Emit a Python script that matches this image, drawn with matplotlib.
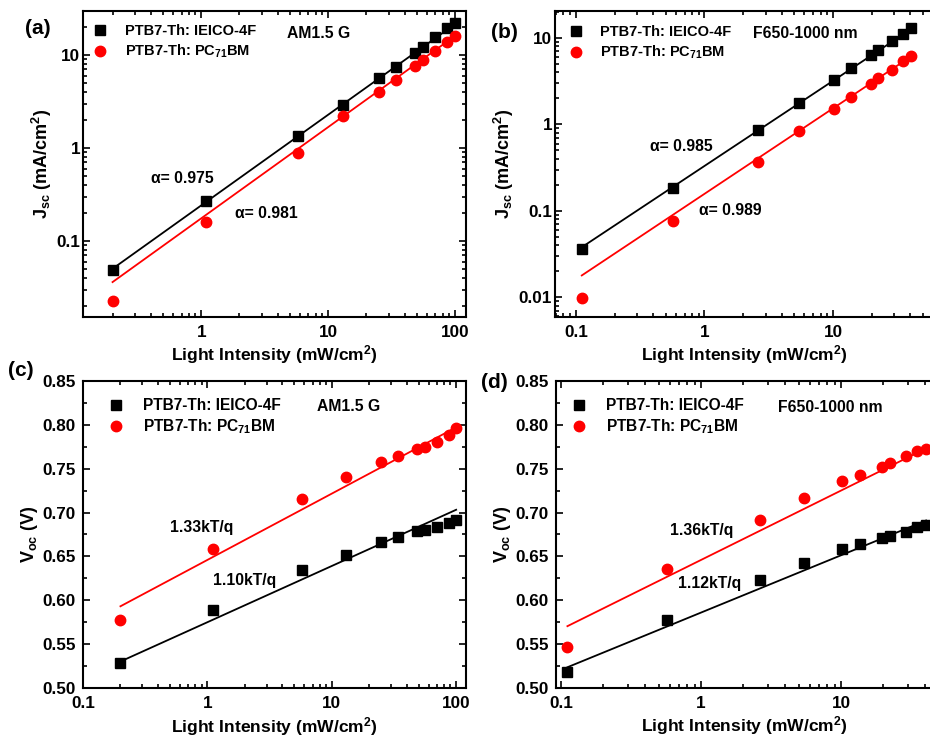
import numpy as np
import matplotlib
matplotlib.use("Agg")
import matplotlib.pyplot as plt
from matplotlib.ticker import MultipleLocator, FixedLocator, FixedFormatter

plt.rcParams["font.family"] = ["Liberation Sans", "DejaVu Sans"]
plt.rcParams["font.weight"] = "bold"
plt.rcParams["axes.labelweight"] = "bold"
plt.rcParams["mathtext.fontset"] = "custom"
plt.rcParams["mathtext.rm"] = "Liberation Sans:bold"
plt.rcParams["mathtext.it"] = "Liberation Sans:bold"
plt.rcParams["mathtext.bf"] = "Liberation Sans:bold"
plt.rcParams["mathtext.default"] = "rm"

# light intensities (mW/cm2)
int_am15 = [0.2, 1.1, 5.8, 13, 25, 34, 48, 56, 70, 87, 100]
int_nir = [0.111, 0.57, 2.63, 5.4, 10.2, 13.7, 19.6, 22.3, 29, 35, 40.5]

# Jsc (mA/cm2)
jsc_am15_ieico = [0.049, 0.27, 1.35, 2.9, 5.7, 7.5, 10.5, 12.3, 15.6, 19.6, 22]
jsc_am15_pcbm = [0.0225, 0.16, 0.89, 2.2, 4.0, 5.4, 7.6, 8.9, 11, 13.8, 16]
jsc_nir_ieico = [0.036, 0.185, 0.85, 1.75, 3.3, 4.45, 6.3, 7.2, 9.3, 11.2, 12.9]
jsc_nir_pcbm = [0.0098, 0.077, 0.37, 0.83, 1.52, 2.05, 2.9, 3.4, 4.2, 5.4, 6.1]

# Voc (V)
voc_am15_ieico = [0.529, 0.589, 0.634, 0.652, 0.667, 0.672, 0.679, 0.680, 0.684, 0.688, 0.691]
voc_am15_pcbm = [0.578, 0.658, 0.715, 0.741, 0.758, 0.764, 0.773, 0.775, 0.781, 0.788, 0.796]
voc_nir_ieico = [0.518, 0.577, 0.623, 0.642, 0.658, 0.664, 0.671, 0.673, 0.678, 0.683, 0.686]
voc_nir_pcbm = [0.547, 0.636, 0.691, 0.717, 0.736, 0.743, 0.752, 0.757, 0.764, 0.770, 0.772]

# power-law fits Jsc = A * I^alpha
fit_jsc = {
    "a": [(0.241, 0.975), (0.175, 0.981)],
    "b": [(0.33, 0.985), (0.157, 0.989)],
}
# linear-in-log fits Voc = V1 + s * log10(I)
fit_voc = {
    "c": [(0.575, 0.0641), (0.646, 0.0756)],
    "d": [(0.586, 0.0653), (0.646, 0.0791)],
}

lab_ieico = "PTB7-Th: IEICO-4F"
lab_pcbm = "PTB7-Th: PC$_{71}$BM"
xlabel = "Light Intensity (mW/cm$^{2}$)"

W, H = 930, 737
fig = plt.figure(figsize=(W / 100, H / 100), dpi=100)


def px_axes(x0, y0, x1, y1):
    return fig.add_axes([x0 / W, 1 - y1 / H, (x1 - x0) / W, (y1 - y0) / H])


def style(ax, right=True, ypad=3, xlabelpad=2):
    ax.tick_params(which="both", direction="in", top=True, right=right, labelsize=12.3, width=1.2)
    ax.tick_params(which="major", length=5)
    ax.tick_params(which="minor", length=3)
    ax.tick_params(axis="x", which="major", pad=6)
    ax.tick_params(axis="y", which="major", pad=ypad)
    for s in ax.spines.values():
        s.set_linewidth(1.5)
    for t in ax.get_xticklabels() + ax.get_yticklabels():
        t.set_fontweight("bold")
    ax.set_xlabel(xlabel, fontsize=12.6, labelpad=xlabelpad)


def draw(ax, x, y1, y2, f1, f2, anchor, fs):
    xf = np.geomspace(x[0], x[-1], 50)
    ax.plot(xf, f1(xf), color="black", lw=1.3)
    ax.plot(xf, f2(xf), color="red", lw=1.3)
    ax.plot(x, y1, "s", color="black", ms=7, label=lab_ieico)
    ax.plot(x, y2, "o", color="red", ms=7.5, label=lab_pcbm)
    ax.legend(loc="upper left", bbox_to_anchor=anchor, frameon=False, handletextpad=1.2,
              borderaxespad=0.0, labelspacing=0.3, handlelength=1.0,
              prop={"weight": "bold", "size": fs})


def note(ax, x, y, s, **kw):
    ax.text(x, y, s, fontsize=11.3, fontweight="bold", va="center", **kw)


# (a)
ax = px_axes(83, 11, 466, 317)
ax.set_xscale("log")
ax.set_yscale("log")
(A1, a1), (A2, a2) = fit_jsc["a"]
draw(ax, int_am15, jsc_am15_ieico, jsc_am15_pcbm,
     lambda v: A1 * v ** a1, lambda v: A2 * v ** a2, (0.01, 0.975), 10.5)
ax.set_xlim(0.117, 122)
ax.set_ylim(0.0152, 29.7)
ax.xaxis.set_major_locator(FixedLocator([1, 10, 100]))
ax.xaxis.set_major_formatter(FixedFormatter(["1", "10", "100"]))
ax.yaxis.set_major_locator(FixedLocator([0.1, 1, 10]))
ax.yaxis.set_major_formatter(FixedFormatter(["0.1", "1", "10"]))
ax.set_ylabel("J$_{sc}$ (mA/cm$^{2}$)", fontsize=13, labelpad=2)
style(ax, ypad=2)
note(ax, 0.533, 0.926, "AM1.5 G", transform=ax.transAxes)
note(ax, 0.40, 0.475, "α= 0.975")
note(ax, 1.85, 0.195, "α= 0.981")
fig.text(38 / W, 1 - 28 / H, "(a)", fontsize=15, fontweight="bold", ha="center", va="center")

# (b)
ax = px_axes(555, 11, 933, 317)
ax.set_xscale("log")
ax.set_yscale("log")
(A1, a1), (A2, a2) = fit_jsc["b"]
draw(ax, int_nir, jsc_nir_ieico, jsc_nir_pcbm,
     lambda v: A1 * v ** a1, lambda v: A2 * v ** a2, (0.02, 0.972), 10.5)
ax.set_xlim(0.0687, 60)
ax.set_ylim(0.0059, 20.5)
ax.xaxis.set_major_locator(FixedLocator([0.1, 1, 10]))
ax.xaxis.set_major_formatter(FixedFormatter(["0.1", "1", "10"]))
ax.yaxis.set_major_locator(FixedLocator([0.01, 0.1, 1, 10]))
ax.yaxis.set_major_formatter(FixedFormatter(["0.01", "0.1", "1", "10"]))
ax.set_ylabel("J$_{sc}$ (mA/cm$^{2}$)", fontsize=13, labelpad=2)
style(ax, right=False, ypad=2)
note(ax, 0.523, 0.926, "F650-1000 nm", transform=ax.transAxes)
note(ax, 0.38, 0.56, "α= 0.985")
note(ax, 0.9, 0.1, "α= 0.989")
fig.text(504 / W, 1 - 33 / H, "(b)", fontsize=15, fontweight="bold", ha="center", va="center")

# (c)
ax = px_axes(83, 381, 466, 688)
ax.set_xscale("log")
(V1, s1), (V2, s2) = fit_voc["c"]
draw(ax, int_am15, voc_am15_ieico, voc_am15_pcbm,
     lambda v: V1 + s1 * np.log10(v), lambda v: V2 + s2 * np.log10(v), (0.05, 0.965), 11.2)
ax.set_xlim(0.1, 120)
ax.set_ylim(0.50, 0.85)
ax.xaxis.set_major_locator(FixedLocator([0.1, 1, 10, 100]))
ax.xaxis.set_major_formatter(FixedFormatter(["0.1", "1", "10", "100"]))
ax.yaxis.set_major_locator(MultipleLocator(0.05))
ax.yaxis.set_minor_locator(MultipleLocator(0.025))
ax.yaxis.set_major_formatter(plt.FormatStrFormatter("%.2f"))
ax.set_ylabel("V$_{oc}$ (V)", fontsize=13, labelpad=2)
style(ax, ypad=5, xlabelpad=2.5)
note(ax, 0.61, 0.918, "AM1.5 G", transform=ax.transAxes)
note(ax, 0.5, 0.683, "1.33kT/q")
note(ax, 1.1, 0.623, "1.10kT/q")
fig.text(21 / W, 1 - 370 / H, "(c)", fontsize=15, fontweight="bold", ha="center", va="center")

# (d)
ax = px_axes(556, 381, 933, 688)
ax.set_xscale("log")
(V1, s1), (V2, s2) = fit_voc["d"]
draw(ax, int_nir, voc_nir_ieico, voc_nir_pcbm,
     lambda v: V1 + s1 * np.log10(v), lambda v: V2 + s2 * np.log10(v), (0.025, 0.965), 11.2)
ax.set_xlim(0.092, 45.4)
ax.set_ylim(0.50, 0.85)
ax.xaxis.set_major_locator(FixedLocator([0.1, 1, 10]))
ax.xaxis.set_major_formatter(FixedFormatter(["0.1", "1", "10"]))
ax.yaxis.set_major_locator(MultipleLocator(0.05))
ax.yaxis.set_minor_locator(MultipleLocator(0.025))
ax.yaxis.set_major_formatter(plt.FormatStrFormatter("%.2f"))
ax.set_ylabel("V$_{oc}$ (V)", fontsize=13, labelpad=2)
style(ax, right=False, ypad=5)
note(ax, 0.588, 0.915, "F650-1000 nm", transform=ax.transAxes)
note(ax, 0.6, 0.68, "1.36kT/q")
note(ax, 0.68, 0.619, "1.12kT/q")
fig.text(494 / W, 1 - 382 / H, "(d)", fontsize=15, fontweight="bold", ha="center", va="center")

fig.savefig("out.png", dpi=100)
